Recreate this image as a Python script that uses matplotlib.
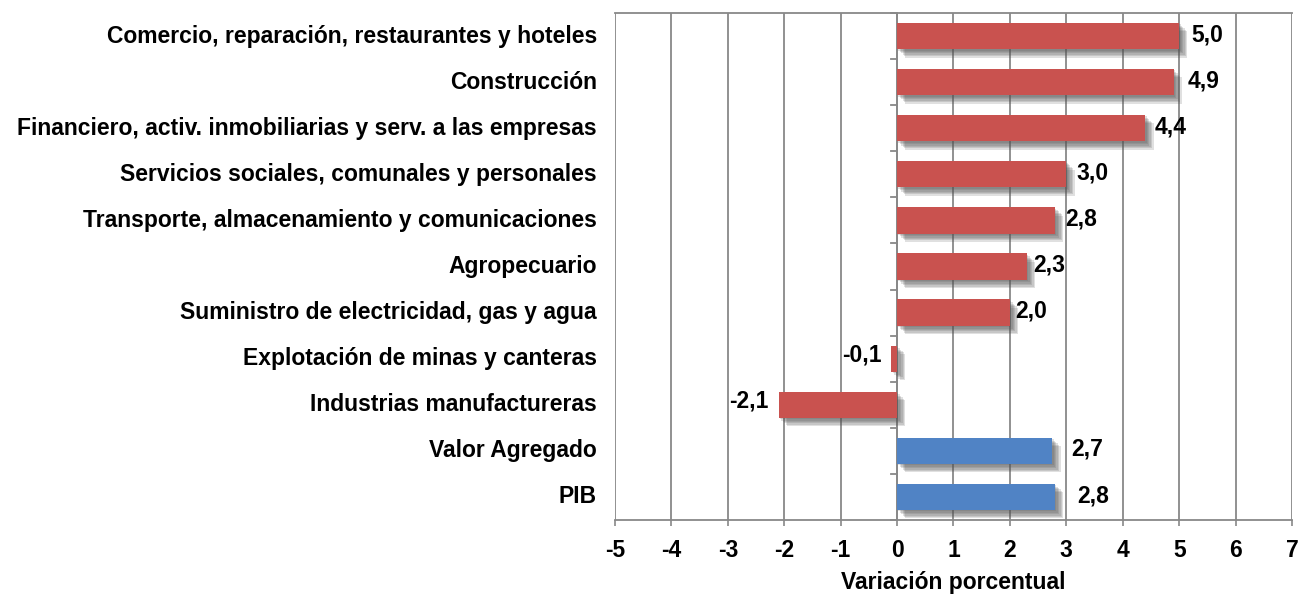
import matplotlib.pyplot as plt
import matplotlib.patheffects as pe
import numpy as np

plt.rcParams['font.family'] = ['Liberation Sans', 'DejaVu Sans']
plt.rcParams['font.weight'] = 'bold'

sectors = [
    "Comercio, reparación, restaurantes y hoteles",
    "Construcción",
    "Financiero, activ. inmobiliarias y serv. a las empresas",
    "Servicios sociales, comunales y personales",
    "Transporte, almacenamiento y comunicaciones",
    "Agropecuario",
    "Suministro de electricidad, gas y agua",
    "Explotación de minas y canteras",
    "Industrias manufactureras",
    "Valor Agregado",
    "PIB",
]
values = [5.0, 4.9, 4.4, 3.0, 2.8, 2.3, 2.0, -0.1, -2.1, 2.75, 2.8]
labels = ["5,0", "4,9", "4,4", "3,0", "2,8", "2,3", "2,0", "-0,1", "-2,1", "2,7", "2,8"]
colors = ["#C9524F"] * 9 + ["#5083C5"] * 2
# label gap from bar end, in points
pads = [9, 10, 7, 7, 7, 4.5, 4, 7, 7, 14, 16]

FS = 16.5

fig = plt.figure(figsize=(12.98, 5.97), dpi=100)
ax = fig.add_axes([615 / 1298, 77 / 597, 677 / 1298, 507 / 597])

y = np.arange(len(sectors))
# soft drop shadow built from a few faint offset copies
shadow = [pe.SimplePatchShadow(offset=(k, -k), shadow_rgbFace="#555555", alpha=0.18)
          for k in (1, 2, 3, 4, 5, 6)] + [pe.Normal()]
bars = ax.barh(y, values, height=0.57, color=colors, zorder=3)
for b in bars:
    b.set_path_effects(shadow)

for yi, v, lab, p in zip(y, values, labels, pads):
    if v >= 0:
        ax.annotate(lab, (v, yi), xytext=(p, 1), textcoords="offset points",
                    ha="left", va="center", fontsize=FS, fontweight="bold")
    else:
        ax.annotate(lab, (v, yi), xytext=(-p, 3), textcoords="offset points",
                    ha="right", va="center", fontsize=FS, fontweight="bold")

ax.set_xlim(-5, 7)
ax.set_ylim(len(sectors) - 0.5, -0.5)
ax.set_xticks(range(-5, 8))
ax.set_xticklabels([str(t) for t in range(-5, 8)], fontsize=FS, fontweight="bold")
ax.set_yticks([])
ax.tick_params(axis="x", direction="out", length=4.5, width=1.2, color="#888888", pad=9)

ax.grid(axis="x", color="#888888", linewidth=1.3, zorder=0)
for s in ["left", "right"]:
    ax.spines[s].set_visible(False)
for s in ["top", "bottom"]:
    ax.spines[s].set_color("#888888")
    ax.spines[s].set_linewidth(1.3)

# zero axis with category boundary ticks
ax.axvline(0, color="#888888", linewidth=1.3, zorder=2)
for yb in np.arange(-0.5, len(sectors) + 0.5, 1):
    ax.plot([-0.1, 0], [yb, yb], color="#888888", linewidth=1.3, zorder=2, clip_on=False)

for yi, name in zip(y, sectors):
    ax.text(-5.32, yi, name, ha="right", va="center", fontsize=FS, fontweight="bold")

ax.set_xlabel("Variación porcentual", fontsize=FS, fontweight="bold", labelpad=7)

fig.savefig("out.png", dpi=100)
